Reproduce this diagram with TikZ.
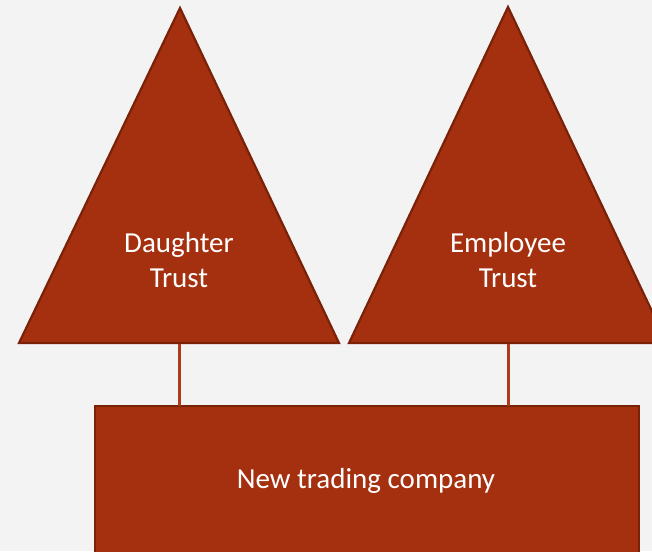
\documentclass[tikz,border=0pt]{standalone}
\usepackage{fontspec}
\setmainfont{Carlito}
\definecolor{rust}{HTML}{A5300F}
\definecolor{rustdark}{HTML}{7A2208}
\definecolor{rustline}{HTML}{AE3A1C}
\definecolor{bg}{HTML}{F3F3F3}
\tikzset{
  shapefill/.style={fill=rust, draw=rustdark, line width=2.2pt, line join=miter},
  label text/.style={text=white, font=\fontsize{29}{35}\selectfont, align=center, anchor=base, inner sep=0pt},
  linkline/.style={draw=rustline, line width=3pt}
}
\begin{document}
\begin{tikzpicture}[x=1pt,y=-1pt]
\useasboundingbox (0,0) rectangle (652,551);
\clip (0,0) rectangle (652,551);
\fill[bg] (0,0) rectangle (652,551);
% triangles
\coordinate (dapex) at (180,8);
\coordinate (dbase) at (179,343);
\coordinate (eapex) at (508,7);
\coordinate (ebase) at (508,343);
\path[shapefill] (dapex) -- (19,343) -- (339,343) -- cycle;
\path[shapefill] (eapex) -- (349,343) -- (667,343) -- cycle;
% box
\path[shapefill] (95,406) rectangle (639,575);
\coordinate (boxtopL) at (179,406);
\coordinate (boxtopR) at (508,406);
% connectors
\draw[linkline] (dbase) ++(0,1) -- (boxtopL);
\draw[linkline] (ebase) ++(0,1) -- (boxtopR);
% labels
\node[label text] (dlabel) at (179,287) {Daughter\\Trust};
\node[label text] (elabel) at (508,287) {Employee\\Trust};
\node[label text] (blabel) at (366,488) {New trading company};
\end{tikzpicture}
\end{document}
